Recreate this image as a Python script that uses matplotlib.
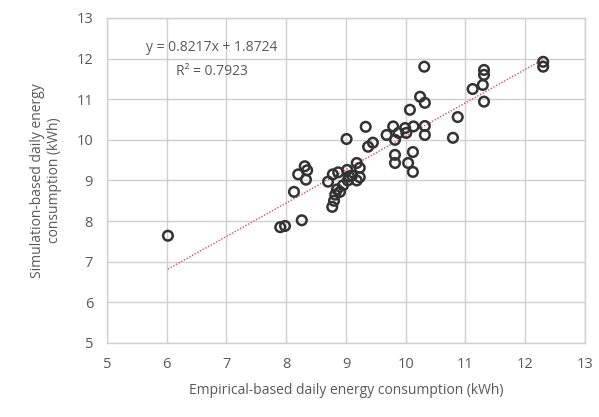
import matplotlib
matplotlib.use("Agg")
import matplotlib.pyplot as plt
import numpy as np

# empirical (x) vs simulation (y) daily energy consumption, kWh
empirical = [
    6.02, 7.90, 7.98, 8.26, 8.13, 8.20, 8.31, 8.33, 8.35,
    8.77, 8.80, 8.82, 8.85, 8.90, 8.70, 8.78, 8.87, 8.95,
    9.02, 9.03, 9.10, 9.18, 9.23, 9.23, 9.18, 9.01, 9.33,
    9.37, 9.45, 9.68, 9.79, 9.82, 9.88, 9.99, 10.01, 10.13,
    10.32, 10.32, 9.82, 9.82, 10.12, 10.04, 10.12, 10.07, 10.24,
    10.32, 10.31, 10.79, 10.87, 11.12, 11.29, 11.31, 11.31, 11.31,
    12.30, 12.30, 9.05,
]
simulation = [
    7.64, 7.85, 7.88, 8.02, 8.72, 9.15, 9.35, 9.02, 9.25,
    8.35, 8.50, 8.65, 8.78, 8.72, 8.97, 9.15, 9.20, 8.88,
    9.26, 9.00, 9.12, 9.43, 9.31, 9.08, 9.00, 10.02, 10.32,
    9.83, 9.93, 10.12, 10.33, 10.00, 10.17, 10.29, 10.17, 10.33,
    10.34, 10.12, 9.63, 9.43, 9.70, 9.43, 9.21, 10.74, 11.06,
    10.91, 11.80, 10.05, 10.56, 11.25, 11.35, 11.72, 11.60, 10.94,
    11.92, 11.80, 9.10,
]

# linear trendline as reported on the chart
slope = 0.8217
intercept = 1.8724
r2 = 0.7923

ticks = list(range(5, 14))

plt.rcParams["font.family"] = ["Open Sans", "DejaVu Sans"]

fig = plt.figure(figsize=(5.99, 4.17), dpi=100)
ax = fig.add_axes([0.1786, 0.1775, 0.798, 0.7795])

grid_col = "#d0d0d0"
text_col = "#595959"

ax.scatter(empirical, simulation, s=48, facecolors="none",
           edgecolors="#333333", linewidths=1.8, zorder=3)

xs = np.array([min(empirical), max(empirical)])
ax.plot(xs, slope * xs + intercept, linestyle=(0, (1, 1.2)),
        color="#d05060", linewidth=1.0, zorder=2)

ax.text(6.75, 12.27, f"y = {slope}x + {intercept}", ha="center",
        va="center", fontsize=10, color=text_col)
ax.text(6.75, 11.67, f"R² = {r2}", ha="center", va="center",
        fontsize=10, color=text_col)

ax.set_xlim(5, 13)
ax.set_ylim(5, 13)
ax.set_xticks(ticks)
ax.set_yticks(ticks)
ax.grid(True, color=grid_col, linewidth=1.0)
ax.set_axisbelow(True)
ax.tick_params(length=0, labelsize=10.5, colors=text_col, pad=10)
for sp in ax.spines.values():
    sp.set_color(grid_col)
    sp.set_linewidth(1.0)

ax.set_xlabel("Empirical-based daily energy consumption (kWh)",
              fontsize=10, color=text_col, labelpad=8)
ax.set_ylabel("Simulation-based daily energy\nconsumption (kWh)",
              fontsize=10, color=text_col, labelpad=10)

fig.savefig("out.png", dpi=100)
